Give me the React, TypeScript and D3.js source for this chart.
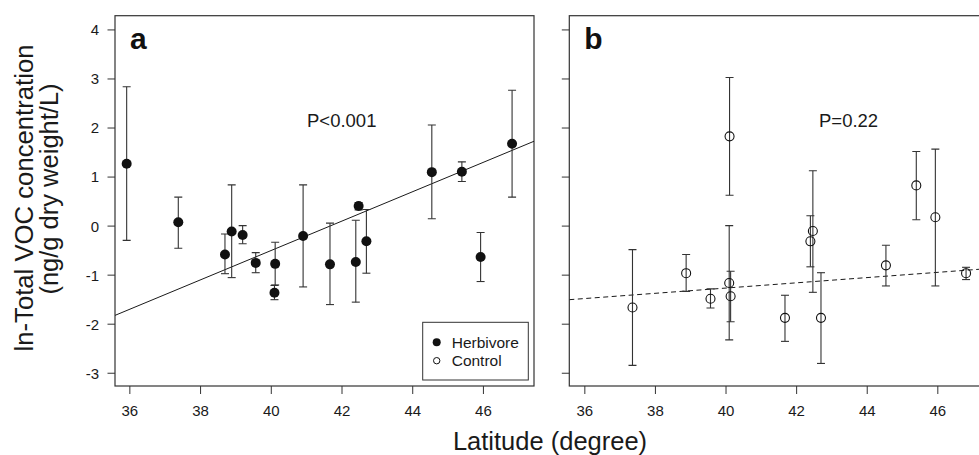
import React from "react";
import * as d3 from "d3";

// ---- Data ----
const latA = [35.91, 37.37, 38.69, 38.88, 39.19, 39.56, 40.11, 40.09, 40.9, 41.66, 42.39, 42.47, 42.69, 44.54, 45.39, 45.92, 46.81];
const meanA = [1.27, 0.08, -0.58, -0.11, -0.18, -0.75, -0.77, -1.36, -0.2, -0.78, -0.73, 0.41, -0.31, 1.1, 1.11, -0.63, 1.68];
const upperA = [2.84, 0.59, -0.16, 0.84, 0.01, -0.54, -0.33, -1.21, 0.84, 0.06, 0.12, 0.48, 0.34, 2.06, 1.31, -0.13, 2.77];
const lowerA = [-0.29, -0.45, -0.97, -1.05, -0.36, -0.95, -1.2, -1.5, -1.24, -1.6, -1.55, 0.33, -0.96, 0.15, 0.91, -1.13, 0.59];

const latB = [37.35, 38.87, 39.56, 40.09, 40.13, 40.1, 41.67, 42.39, 42.46, 42.69, 44.53, 45.39, 45.93, 46.8];
const meanB = [-1.66, -0.96, -1.48, -1.16, -1.43, 1.83, -1.87, -0.31, -0.1, -1.87, -0.8, 0.83, 0.18, -0.96];
const upperB = [-0.48, -0.58, -1.28, 0.01, -0.92, 3.03, -1.41, 0.21, 1.13, -0.95, -0.39, 1.52, 1.57, -0.84];
const lowerB = [-2.84, -1.33, -1.67, -2.32, -1.95, 0.63, -2.35, -0.83, -1.35, -2.8, -1.22, 0.13, -1.22, -1.09];

const fitSlopes = [0.2996, 0.0534];
const fitIntercepts = [-12.48, -3.399];
const pLabels = ["P<0.001", "P=0.22"];
const panelLabels = ["a", "b"];

const xTicks = [36, 38, 40, 42, 44, 46];
const yTicks = [-3, -2, -1, 0, 1, 2, 3, 4];
const legendLabels = ["Herbivore", "Control"];

const FONT = "'Liberation Sans', Arial, Helvetica, sans-serif";
const INK = "#1a1a1a";
const AX = "#333";

const W = 979;
const H = 455;
const top = 15.7;
const bottom = 386;

const y = d3.scaleLinear().domain([-3.26, 4.29]).range([bottom, top]);

type PanelProps = {
  x: d3.ScaleLinear<number, number>;
  lats: number[];
  means: number[];
  uppers: number[];
  lowers: number[];
  filled: boolean;
  slope: number;
  intercept: number;
  dashed: boolean;
  showYLabels: boolean;
  label: string;
  pText: string;
  pX: number;
  id: string;
};

function Panel(p: PanelProps) {
  const [x0, x1] = p.x.range();
  const [d0, d1] = p.x.domain();
  const clipRight = Math.min(x1, W);
  const line = d3
    .line<number>()
    .x((d) => p.x(d))
    .y((d) => y(p.intercept + p.slope * d));
  const cap = 4;
  return (
    <g>
      <defs>
        <clipPath id={p.id}>
          <rect x={x0} y={top} width={clipRight - x0} height={bottom - top} />
        </clipPath>
      </defs>
      {/* frame */}
      <rect x={x0} y={top} width={x1 - x0} height={bottom - top} fill="none" stroke={AX} strokeWidth={1.2} />
      {/* y ticks */}
      {yTicks.map((t) => (
        <g key={"yt" + t}>
          <line x1={x0 - 7.5} x2={x0} y1={y(t)} y2={y(t)} stroke={AX} strokeWidth={1} />
          {p.showYLabels && (
            <text x={x0 - 16} y={y(t)} dy="0.36em" textAnchor="end" fontSize={15} fill={INK} fontFamily={FONT}>
              {t}
            </text>
          )}
        </g>
      ))}
      {/* x ticks */}
      {xTicks.map((t) => (
        <g key={"xt" + t}>
          <line x1={p.x(t)} x2={p.x(t)} y1={bottom} y2={bottom + 8} stroke={AX} strokeWidth={1} />
          <text x={p.x(t)} y={416} textAnchor="middle" fontSize={15} fill={INK} fontFamily={FONT}>
            {t}
          </text>
        </g>
      ))}
      <g clipPath={`url(#${p.id})`}>
        {/* regression */}
        <path
          d={line([d0, d1]) || ""}
          fill="none"
          stroke={INK}
          strokeWidth={1}
          strokeDasharray={p.dashed ? "5,3.5" : undefined}
        />
        {/* error bars */}
        {p.lats.map((lat, i) => {
          const cx = p.x(lat);
          return (
            <g key={"eb" + i} stroke={AX} strokeWidth={1.1}>
              <line x1={cx} x2={cx} y1={y(p.uppers[i])} y2={y(p.lowers[i])} />
              <line x1={cx - cap} x2={cx + cap} y1={y(p.uppers[i])} y2={y(p.uppers[i])} />
              <line x1={cx - cap} x2={cx + cap} y1={y(p.lowers[i])} y2={y(p.lowers[i])} />
            </g>
          );
        })}
        {/* points */}
        {p.lats.map((lat, i) =>
          p.filled ? (
            <circle key={"pt" + i} cx={p.x(lat)} cy={y(p.means[i])} r={5} fill="#111" />
          ) : (
            <circle key={"pt" + i} cx={p.x(lat)} cy={y(p.means[i])} r={4.5} fill="none" stroke="#111" strokeWidth={1.1} />
          )
        )}
      </g>
      <text x={x0 + 15} y={49} fontSize={30} fontWeight="bold" fill="#111" fontFamily={FONT}>
        {p.label}
      </text>
      <text x={p.pX} y={127} fontSize={18.5} fill={INK} fontFamily={FONT}>
        {p.pText}
      </text>
    </g>
  );
}

export default function App() {
  const xA = d3.scaleLinear().domain([35.58, 47.43]).range([115, 534]);
  const xB = d3.scaleLinear().domain([35.56, 47.43]).range([569.3, 988.3]);

  const lgX = 422.7;
  const lgY = 322.3;
  const lgW = 105.6;
  const lgH = 57.7;

  return (
    <svg
      width={W}
      height={H}
      viewBox={`0 0 ${W} ${H}`}
      style={{ position: "absolute", left: 0, top: 0, background: "#fff" }}
    >
      <rect x={0} y={0} width={W} height={H} fill="#fff" />
      <Panel
        id="clipA"
        x={xA}
        lats={latA}
        means={meanA}
        uppers={upperA}
        lowers={lowerA}
        filled={true}
        slope={fitSlopes[0]}
        intercept={fitIntercepts[0]}
        dashed={false}
        showYLabels={true}
        label={panelLabels[0]}
        pText={pLabels[0]}
        pX={307}
      />
      <Panel
        id="clipB"
        x={xB}
        lats={latB}
        means={meanB}
        uppers={upperB}
        lowers={lowerB}
        filled={false}
        slope={fitSlopes[1]}
        intercept={fitIntercepts[1]}
        dashed={true}
        showYLabels={false}
        label={panelLabels[1]}
        pText={pLabels[1]}
        pX={819}
      />
      {/* legend */}
      <g>
        <rect x={lgX} y={lgY} width={lgW} height={lgH} fill="#fff" stroke={AX} strokeWidth={1} />
        <circle cx={436.7} cy={342.3} r={4} fill="#111" />
        <text x={451.7} y={342.3} dy="0.36em" fontSize={15.5} fill={INK} fontFamily={FONT}>
          {legendLabels[0]}
        </text>
        <circle cx={436.7} cy={360.7} r={3.2} fill="none" stroke="#111" strokeWidth={1} />
        <text x={451.7} y={360.7} dy="0.36em" fontSize={15.5} fill={INK} fontFamily={FONT}>
          {legendLabels[1]}
        </text>
      </g>
      {/* axis titles */}
      <text x={550} y={450} textAnchor="middle" fontSize={25.5} fill={INK} fontFamily={FONT}>
        Latitude (degree)
      </text>
      <text
        transform="translate(33,198) rotate(-90)"
        textAnchor="middle"
        fontSize={25.7}
        fill={INK}
        fontFamily={FONT}
      >
        ln-Total VOC concentration
      </text>
      <text
        transform="translate(58,189) rotate(-90)"
        textAnchor="middle"
        fontSize={25.5}
        fill={INK}
        fontFamily={FONT}
      >
        (ng/g dry weight/L)
      </text>
    </svg>
  );
}
